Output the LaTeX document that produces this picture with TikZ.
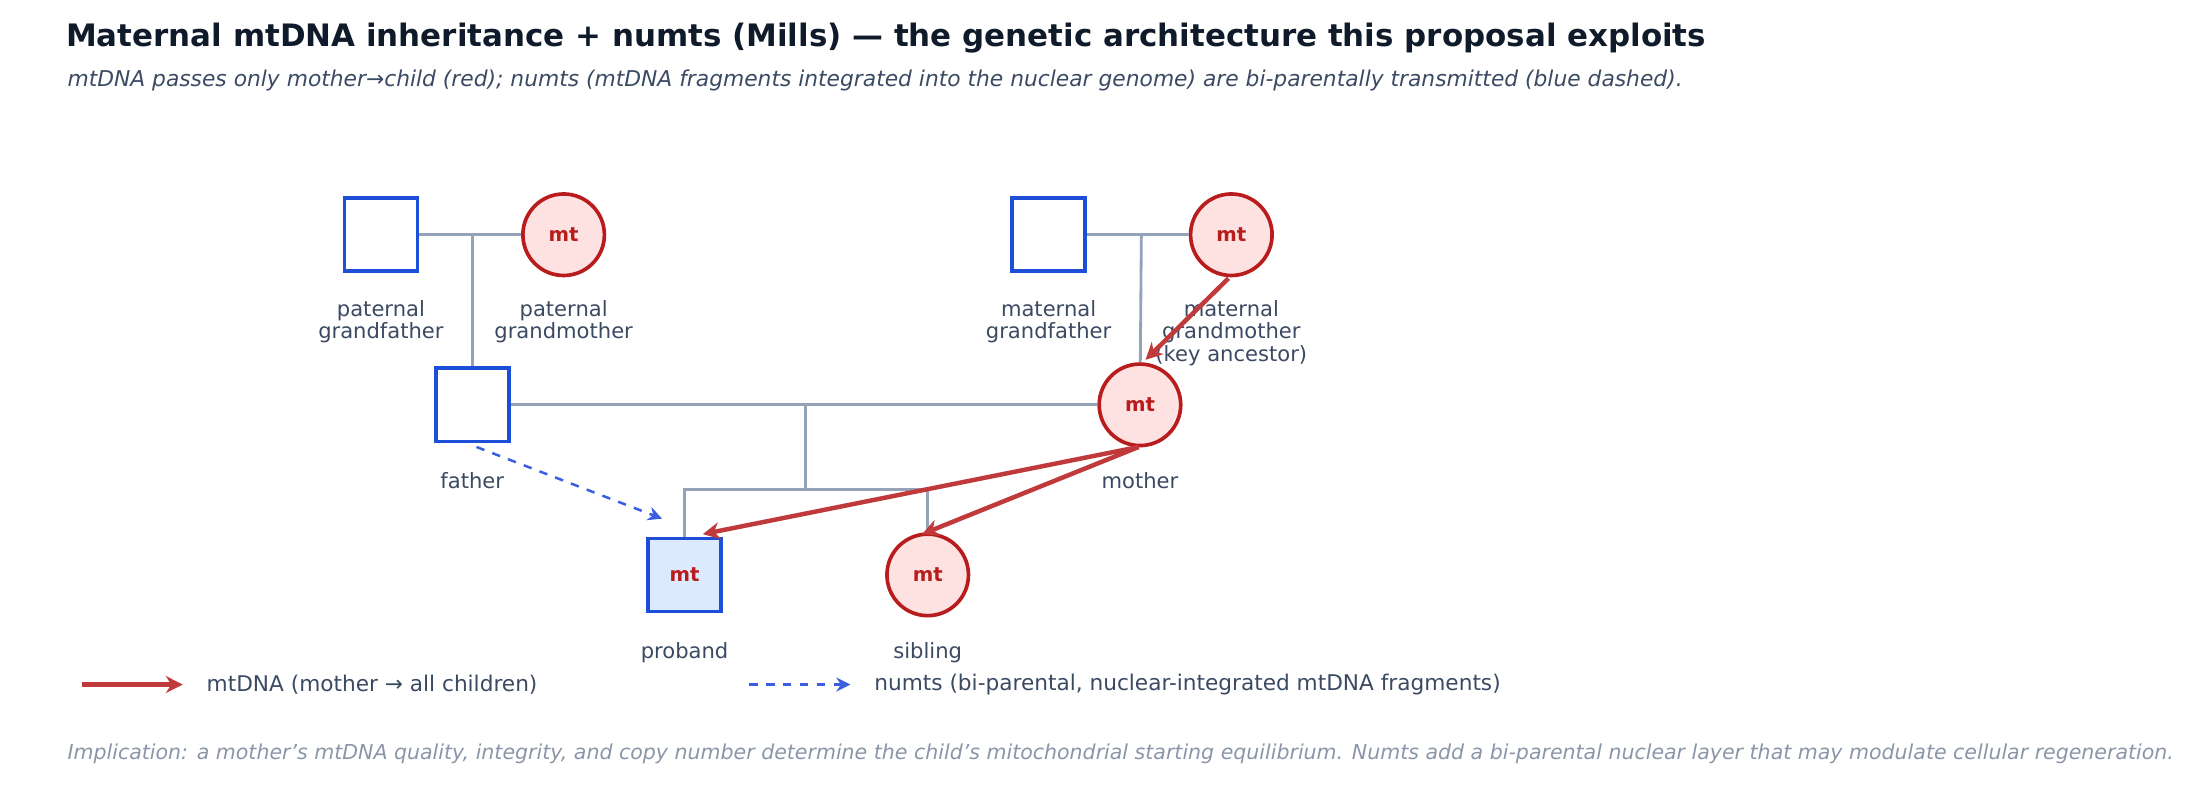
\documentclass[tikz,border=0pt]{standalone}
\usepackage{fontspec}
\setmainfont{DejaVu Sans}
\usetikzlibrary{arrows.meta, positioning}
\definecolor{inkdark}{HTML}{0F1B2A}
\definecolor{inkgray}{HTML}{3B4A63}
\definecolor{inkfoot}{HTML}{8A96A8}
\definecolor{maleblue}{HTML}{1D4ED8}
\definecolor{femred}{HTML}{B91C1C}
\definecolor{femfill}{HTML}{FEE2E2}
\definecolor{probfill}{HTML}{DBEAFE}
\definecolor{linegray}{HTML}{94A3B8}
\definecolor{mtred}{HTML}{C0393B}
\definecolor{numtblue}{HTML}{3B5FE0}

\begin{document}
\begin{tikzpicture}[x=0.5pt, y=-0.5pt,
		% define styles
		malenode/.style={
			rectangle,
			minimum size=26pt,
			inner sep=0pt,
			line width=1.3pt,
			draw=maleblue,
			fill=white
		},
		femalenode/.style={
			circle,
			minimum size=29pt,
			inner sep=0pt,
			line width=1.3pt,
			draw=femred,
			fill=femfill,
			text=femred,
			font=\fontsize{7}{8}\selectfont\bfseries
		},
		namelabel/.style={
			text=inkgray,
			align=center,
			font=\fontsize{7.5}{8}\selectfont
		},
		kinline/.style={
			draw=linegray,
			line width=1pt
		},
		mtarrow/.style={
			-{Stealth[length=6pt,width=6pt]},
			line width=1.6pt,
			mtred
		},
		numtarrow/.style={
			-{Stealth[length=5pt,width=5pt]},
			line width=0.9pt,
			dashed,
			numtblue
		}]
		% end of style definition
		\useasboundingbox (0,0) rectangle (1568,577);

		% titles
		\node (iTitle) [anchor=west, text=inkdark, font=\fontsize{11}{13}\selectfont\bfseries] at (40,27) {Maternal mtDNA inheritance + numts (Mills) — the genetic architecture this proposal exploits};
		\node (iSub) [anchor=west, text=inkgray, font=\fontsize{7.75}{9}\selectfont\itshape] at (41,57) {mtDNA passes only mother→child (red); numts (mtDNA fragments integrated into the nuclear genome) are bi-parentally transmitted (blue dashed).};

		% draw nodes
		\node (iPGF) [malenode] at (271,167) {};
		\node (iPGM) [femalenode] at (401,167) {mt};
		\node (iMGF) [malenode] at (746,167) {};
		\node (iMGM) [femalenode] at (876,167) {mt};
		\node (iFather) [malenode] at (336,288) {};
		\node (iMother) [femalenode] at (811,288) {mt};
		\node (iProband) [malenode, fill=probfill, text=femred, font=\fontsize{7}{8}\selectfont\bfseries] at (487,409) {mt};
		\node (iSibling) [femalenode] at (660,409) {mt};

		\node [namelabel] at (271,229) {paternal\\grandfather};
		\node [namelabel] at (401,229) {paternal\\grandmother};
		\node [namelabel] at (746,229) {maternal\\grandfather};
		\node [namelabel] at (876,237) {maternal\\grandmother\\(key ancestor)};
		\node [namelabel] at (336,342) {father};
		\node [namelabel] at (811,342) {mother};
		\node [namelabel] at (487,464) {proband};
		\node [namelabel] at (660,464) {sibling};

		% connect nodes
		\coordinate (iPatMid) at (336,167);
		\coordinate (iMatMid) at (812,167);
		\coordinate (iParMid) at (573,288);
		\coordinate (iSibMid) at (573,348);
		\draw [kinline] (iPGF) -- (iPGM);
		\draw [kinline] (iPatMid) -- (iFather);
		\draw [kinline] (iMGF) -- (iMGM);
		\draw [kinline] (iMatMid) -- (iMother);
		\draw [kinline] (iFather) -- (iMother);
		\draw [kinline] (iParMid) -- (iSibMid);
		\draw [kinline] (iProband.north) |- (iSibMid) -| (iSibling.north);

		\coordinate (iMgmOut) at (874,198);
		\coordinate (iMotherIn) at (815,256);
		\coordinate (iMotherOut) at (810,318);
		\coordinate (iProbandIn) at (500,380);
		\coordinate (iSiblingIn) at (656,380);
		\coordinate (iFatherOut) at (339,318);
		\coordinate (iProbandNumt) at (471,369);
		\draw [mtarrow] (iMgmOut) -- (iMotherIn);
		\draw [mtarrow] (iMotherOut) -- (iProbandIn);
		\draw [mtarrow] (iMotherOut) -- (iSiblingIn);
		\draw [numtarrow] (iFatherOut) -- (iProbandNumt);

		% legend
		\coordinate (iLegA) at (58,487);
		\coordinate (iLegB) at (130,487);
		\coordinate (iLegC) at (533,487);
		\coordinate (iLegD) at (605,487);
		\draw [mtarrow] (iLegA) -- (iLegB);
		\node (iLegMt) [anchor=west, namelabel, font=\fontsize{7.7}{9}\selectfont] at (140,487) {mtDNA (mother → all children)};
		\draw [numtarrow] (iLegC) -- (iLegD);
		\node (iLegNumt) [anchor=west, namelabel, font=\fontsize{7.7}{9}\selectfont] at (615,487) {numts (bi-parental, nuclear-integrated mtDNA fragments)};

		% footer
		\node (iFoot) [anchor=west, text=inkfoot, font=\fontsize{7.3}{9}\selectfont\itshape] at (41,536) {Implication: a mother\char"27 s mtDNA quality, integrity, and copy number determine the child\char"27 s mitochondrial starting equilibrium. Numts add a bi-parental nuclear layer that may modulate cellular regeneration.};
	\end{tikzpicture}
\end{document}
